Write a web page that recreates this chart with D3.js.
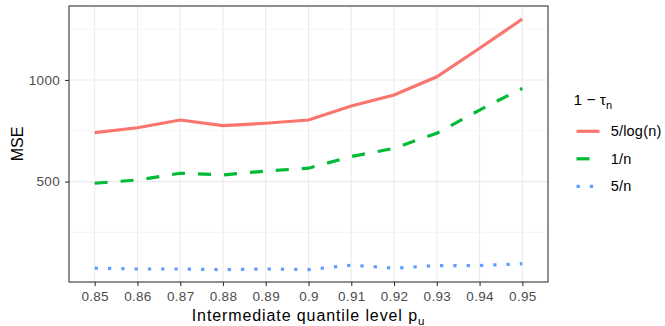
<!DOCTYPE html>
<html>
<head>
<meta charset="utf-8">
<script src="https://cdn.jsdelivr.net/npm/d3@7"></script>
<style>
  body { margin: 0; background: #fff; }
  svg { font-family: "Liberation Sans", Arial, sans-serif; }
</style>
</head>
<body>
<div id="chart"></div>
<script>
const levels = ['0.85', '0.86', '0.87', '0.88', '0.89', '0.9', '0.91', '0.92', '0.93', '0.94', '0.95'];
const mseLog = [741, 765, 803, 775, 787, 803, 872, 926, 1016, 1156, 1300];
const mseOne = [492, 508, 541, 533, 552, 566, 623, 664, 738, 852, 959];
const mseFive = [74, 70, 70, 67, 70, 67, 89, 74, 87, 87, 96];
const seriesNames = ['5/log(n)', '1/n', '5/n'];
const yTicks = [500, 1000];
const yMinor = [250, 750, 1250];

const W = 665, H = 326;
const margin = { top: 6, right: 117, bottom: 44, left: 69 },
    width = W - margin.left - margin.right,
    height = H - margin.top - margin.bottom;

const series = [
    { name: seriesNames[0], values: mseLog, color: '#F8766D', dash: null },
    { name: seriesNames[1], values: mseOne, color: '#00BA38', dash: '13,13' },
    { name: seriesNames[2], values: mseFive, color: '#619CFF', dash: '3.3,10' },
];

const svg = d3.select('#chart')
    .append('svg')
    .attr('width', W)
    .attr('height', H);

const g = svg.append('g')
    .attr('transform', `translate(${margin.left},${margin.top})`);

// discrete x, ggplot-style expansion of 0.6 on each side
const x = d3.scalePoint().domain(levels).range([0, width]).padding(0.6);
const y = d3.scaleLinear().domain([6, 1364]).range([height, 0]);

// grid
g.append('g')
    .selectAll('line')
    .data(yMinor)
    .join('line')
    .attr('x1', 0).attr('x2', width)
    .attr('y1', (d) => y(d)).attr('y2', (d) => y(d))
    .attr('stroke', '#F2F2F2')
    .attr('stroke-width', 0.8);
g.append('g')
    .selectAll('line')
    .data(yTicks)
    .join('line')
    .attr('x1', 0).attr('x2', width)
    .attr('y1', (d) => y(d)).attr('y2', (d) => y(d))
    .attr('stroke', '#EBEBEB')
    .attr('stroke-width', 1.1);
g.append('g')
    .selectAll('line')
    .data(levels)
    .join('line')
    .attr('x1', (d) => x(d)).attr('x2', (d) => x(d))
    .attr('y1', 0).attr('y2', height)
    .attr('stroke', '#EBEBEB')
    .attr('stroke-width', 1.1);

// lines
const line = d3.line()
    .x((d, i) => x(levels[i]))
    .y((d) => y(d));

series.forEach((s) => {
    g.append('path')
        .datum(s.values)
        .attr('d', line)
        .attr('fill', 'none')
        .attr('stroke', s.color)
        .attr('stroke-width', 3.2)
        .attr('stroke-dasharray', s.dash);
});

// panel border
g.append('rect')
    .attr('x', 0).attr('y', 0)
    .attr('width', width).attr('height', height)
    .attr('fill', 'none')
    .attr('stroke', '#333333')
    .attr('stroke-width', 1.1);

// axes
const xAxis = g.append('g')
    .attr('transform', `translate(0,${height})`)
    .call(d3.axisBottom(x).tickSize(4).tickPadding(3));
const yAxis = g.append('g')
    .call(d3.axisLeft(y).tickValues(yTicks).tickFormat(d3.format('d')).tickSize(4).tickPadding(5));

[xAxis, yAxis].forEach((a) => {
    a.select('.domain').remove();
    a.selectAll('line').attr('stroke', '#333333').attr('stroke-width', 1.1);
    a.selectAll('text')
        .attr('fill', '#4D4D4D')
        .style('font-size', '13.5px')
        .style('letter-spacing', '0.3px');
});
xAxis.selectAll('text').attr('dy', '0.9em');

// axis titles
const xTitle = svg.append('text')
    .attr('x', margin.left + width / 2)
    .attr('y', 320.5)
    .attr('text-anchor', 'middle')
    .style('font-size', '16px')
    .style('letter-spacing', '0.9px')
    .attr('fill', '#000');
xTitle.append('tspan').text('Intermediate quantile level p');
xTitle.append('tspan').attr('dy', 4).style('font-size', '11.5px').text('u');

svg.append('text')
    .attr('transform', `translate(23,${margin.top + height / 2}) rotate(-90)`)
    .attr('text-anchor', 'middle')
    .style('font-size', '16px')
    .attr('fill', '#000')
    .text('MSE');

// legend
const legend = svg.append('g').attr('transform', 'translate(561,0)');
const lt = legend.append('text')
    .attr('x', 12.5)
    .attr('y', 104.7)
    .style('font-size', '15.5px')
    .attr('fill', '#000');
lt.append('tspan').text('1 \u2212 \u03C4');
lt.append('tspan').attr('dy', 4).style('font-size', '11px').text('n');

const keys = legend.selectAll('g.key')
    .data(series)
    .join('g')
    .attr('class', 'key')
    .attr('transform', (d, i) => `translate(0,${131.3 + i * 27.5})`);
keys.append('line')
    .attr('x1', 15.5).attr('x2', 38.5)
    .attr('stroke', (d) => d.color)
    .attr('stroke-width', 3.2)
    .attr('stroke-dasharray', (d) => d.dash);
keys.append('text')
    .attr('x', 49.7)
    .attr('dy', '0.35em')
    .style('font-size', '14.5px')
    .style('letter-spacing', '0.2px')
    .attr('fill', '#000')
    .text((d) => d.name);
</script>
</body>
</html>
